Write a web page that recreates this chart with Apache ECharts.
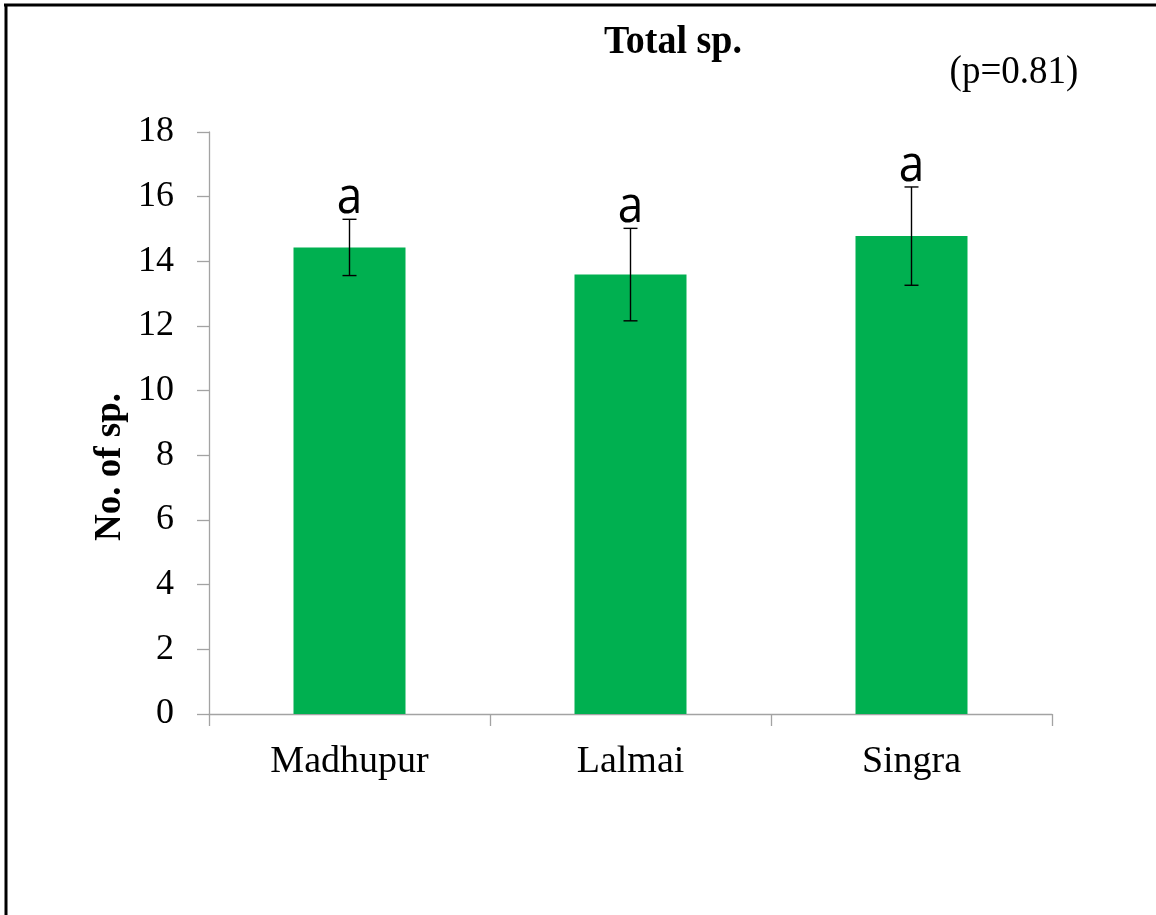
<!DOCTYPE html>
<html>
<head>
<meta charset="utf-8">
<script src="https://cdn.jsdelivr.net/npm/echarts@6/dist/echarts.min.js"></script>
<style>
  html, body { margin: 0; padding: 0; background: #fff; }
  #chart { width: 1156px; height: 915px; }
</style>
</head>
<body>
<div id="chart"></div>
<script>
// Sites and mean number of species per site, with standard errors
const sites = ['Madhupur', 'Lalmai', 'Singra'];
const meanSpecies = [14.43, 13.59, 14.78];
const stdError = [0.87, 1.43, 1.52];
const groupLetters = ['a', 'a', 'a'];
const yTicks = { min: 0, max: 18, interval: 2 };
const chartTitle = 'Total sp.';
const pValueText = '(p=0.81)';
const yAxisTitle = 'No. of sp.';

const serif = '"Liberation Serif", "Times New Roman", serif';
const axisGray = '#a3a3a3';

// error bar rows: [category index, lower, upper, letter]
const errorRows = sites.map((s, i) => [i, meanSpecies[i] - stdError[i], meanSpecies[i] + stdError[i], groupLetters[i]]);

const chart = echarts.init(document.getElementById('chart'), null, { renderer: 'canvas' });

chart.setOption({
  backgroundColor: '#ffffff',
  animation: false,
  grid: { left: 209, right: 104, top: 132, bottom: 201, containLabel: false },
  xAxis: {
    type: 'category',
    data: sites,
    boundaryGap: true,
    axisLine: { show: true, lineStyle: { color: axisGray, width: 1.3 } },
    axisTick: { show: true, alignWithLabel: false, length: 12, lineStyle: { color: axisGray, width: 1.3 } },
    axisLabel: { fontFamily: serif, fontSize: 38, color: '#000', margin: 29 },
    splitLine: { show: false }
  },
  yAxis: {
    type: 'value',
    min: yTicks.min,
    max: yTicks.max,
    interval: yTicks.interval,
    axisLine: { show: true, lineStyle: { color: axisGray, width: 1.3 } },
    axisTick: { show: true, inside: false, length: 12, lineStyle: { color: axisGray, width: 1.3 } },
    axisLabel: { fontFamily: serif, fontSize: 36, color: '#000', margin: 35 },
    splitLine: { show: false }
  },
  series: [
    {
      type: 'bar',
      data: meanSpecies,
      barWidth: 112,
      itemStyle: { color: '#00b050' }
    },
    {
      type: 'custom',
      data: errorRows,
      encode: { x: 0, y: [1, 2] },
      z: 10,
      renderItem: function (params, api) {
        const idx = api.value(0);
        const lo = api.coord([idx, api.value(1)]);
        const hi = api.coord([idx, api.value(2)]);
        const half = 7;
        const style = { stroke: '#000', lineWidth: 1.4 };
        return {
          type: 'group',
          children: [
            { type: 'line', shape: { x1: hi[0], y1: hi[1], x2: lo[0], y2: lo[1] }, style: style },
            { type: 'line', shape: { x1: hi[0] - half, y1: hi[1], x2: hi[0] + half, y2: hi[1] }, style: style },
            { type: 'line', shape: { x1: lo[0] - half, y1: lo[1], x2: lo[0] + half, y2: lo[1] }, style: style },
            {
              type: 'text',
              x: hi[0],
              y: hi[1] + 5,
              scaleY: 1.12,
              style: {
                text: groupLetters[params.dataIndex],
                fill: '#000',
                font: '46px "Open Sans", "Noto Sans", sans-serif',
                textAlign: 'center',
                textVerticalAlign: 'bottom'
              }
            }
          ]
        };
      }
    }
  ],
  graphic: [
    // outer frame (top and left edges)
    { type: 'line', shape: { x1: 4, y1: 5, x2: 1156, y2: 5 }, style: { stroke: '#000', lineWidth: 3 } },
    { type: 'line', shape: { x1: 6, y1: 4, x2: 6, y2: 915 }, style: { stroke: '#000', lineWidth: 3 } },
    {
      type: 'text', x: 673, y: 42, scaleY: 1.08,
      style: { text: chartTitle, font: 'bold 38px ' + serif, fill: '#000', textAlign: 'center', textVerticalAlign: 'middle' }
    },
    {
      type: 'text', x: 1014, y: 73, scaleY: 1.08,
      style: { text: pValueText, font: '37px ' + serif, fill: '#000', textAlign: 'center', textVerticalAlign: 'middle' }
    },
    {
      type: 'text', x: 110, y: 467, rotation: Math.PI / 2,
      style: { text: yAxisTitle, font: 'bold 37px ' + serif, fill: '#000', textAlign: 'center', textVerticalAlign: 'middle' }
    }
  ]
});
</script>
</body>
</html>
